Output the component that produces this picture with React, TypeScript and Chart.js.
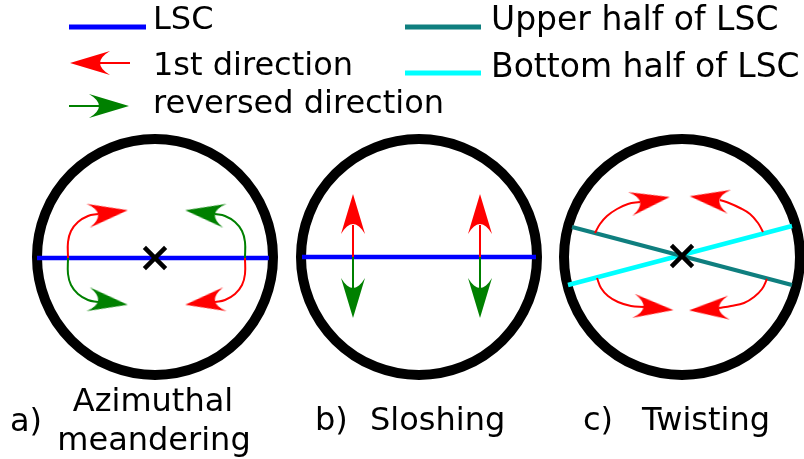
import React, { useEffect, useRef } from "react";
import { Chart, registerables } from "chart.js";

Chart.register(...registerables);

const W = 804;
const H = 459;

// ---- data (diagram coordinates in a 804 x 459 value space) ----
// panel circle centres
const circleCenters = [
  { x: 155, y: 257 },
  { x: 419, y: 257 },
  { x: 682, y: 257 },
];
// centre crosses (panels a and c)
const crossCenters = [
  { x: 155, y: 258 },
  { x: 682, y: 256 },
];
// LSC lines
const lscPanelA = [{ x: 37, y: 258 }, { x: 269, y: 258 }];
const lscPanelB = [{ x: 302, y: 257 }, { x: 536, y: 257 }];
const upperHalfC = [{ x: 572, y: 227 }, { x: 792, y: 285 }];
const bottomHalfC = [{ x: 568, y: 285 }, { x: 792, y: 226 }];
// legend swatches
const legendLSC = [{ x: 69, y: 27 }, { x: 146, y: 27 }];
const legendUpper = [{ x: 405, y: 27 }, { x: 481, y: 27 }];
const legendBottom = [{ x: 405, y: 73 }, { x: 481, y: 73 }];
const legendRedShaft = [{ x: 130, y: 63 }, { x: 100, y: 63 }];
const legendGreenShaft = [{ x: 69, y: 106 }, { x: 99, y: 106 }];

// arrow shafts – 1st direction (red)
const redShafts = [
  [{ x: 68, y: 258 }, { x: 68, y: 242 }, { x: 71, y: 231 }, { x: 78, y: 222 }, { x: 88, y: 216 }, { x: 98, y: 214 }],
  [{ x: 245, y: 258 }, { x: 245, y: 274 }, { x: 242, y: 285 }, { x: 235, y: 294 }, { x: 225, y: 300 }, { x: 215, y: 302 }],
  [{ x: 353, y: 257 }, { x: 353, y: 225 }],
  [{ x: 480, y: 257 }, { x: 480, y: 225 }],
  [{ x: 595, y: 233 }, { x: 600, y: 224 }, { x: 607, y: 216 }, { x: 617, y: 209 }, { x: 628, y: 204 }, { x: 640, y: 202 }],
  [{ x: 763, y: 232 }, { x: 758, y: 223 }, { x: 750, y: 214 }, { x: 740, y: 208 }, { x: 729, y: 203 }, { x: 720, y: 200 }],
  [{ x: 597, y: 278 }, { x: 601, y: 288 }, { x: 608, y: 296 }, { x: 618, y: 302 }, { x: 631, y: 306 }, { x: 644, y: 307 }],
  [{ x: 767, y: 279 }, { x: 762, y: 289 }, { x: 754, y: 297 }, { x: 744, y: 303 }, { x: 731, y: 306 }, { x: 719, y: 308 }],
];
// arrow shafts – reversed direction (green)
const greenShafts = [
  [{ x: 68, y: 258 }, { x: 68, y: 274 }, { x: 71, y: 285 }, { x: 78, y: 294 }, { x: 88, y: 300 }, { x: 98, y: 302 }],
  [{ x: 245, y: 258 }, { x: 245, y: 242 }, { x: 242, y: 231 }, { x: 235, y: 222 }, { x: 225, y: 216 }, { x: 215, y: 214 }],
  [{ x: 353, y: 257 }, { x: 353, y: 288 }],
  [{ x: 480, y: 257 }, { x: 480, y: 288 }],
];
// arrow heads (centre of head) and their directions in degrees
const redHeads = [
  { x: 108, y: 213 }, { x: 205, y: 302 }, { x: 353, y: 214 }, { x: 480, y: 214 },
  { x: 650, y: 200.5 }, { x: 709.5, y: 199 }, { x: 653.5, y: 308 }, { x: 709, y: 309 },
  { x: 90, y: 63 },
];
const redHeadAngles = [-8, 172, -90, -90, -10, 188, 6, 176, 180];
const greenHeads = [
  { x: 108, y: 302 }, { x: 205, y: 213 }, { x: 353, y: 298 }, { x: 480, y: 298 },
  { x: 109, y: 106 },
];
const greenHeadAngles = [8, 188, 90, 90, 0];

// texts
const legendLabels = ["LSC", "1st direction", "reversed direction", "Upper half of LSC", "Bottom half of LSC"];
const panelLetters = ["a)", "b)", "c)"];
const panelNames = [["Azimuthal", "meandering"], ["Sloshing"], ["Twisting"]];

// ---- layout (positions of texts) ----
const legendLabelPos = [
  { x: 153, y: 29, size: 32 },
  { x: 153, y: 75, size: 32 },
  { x: 153, y: 113, size: 32 },
  { x: 491, y: 30, size: 33 },
  { x: 491, y: 77, size: 33 },
];
const letterPos = [
  { x: 10, y: 431 },
  { x: 315, y: 430 },
  { x: 583, y: 430 },
];
const namePos = [
  [{ x: 153, y: 411, align: "center" }, { x: 154, y: 450, align: "center" }],
  [{ x: 370, y: 430, align: "left" }],
  [{ x: 642, y: 430, align: "left" }],
];

const RED = "#ff0000";
const GREEN = "#008000";
const BLUE = "#0000ff";
const TEAL = "#0f7f7f";
const CYAN = "#00ffff";
const font = (px: number) => `${px}px "DejaVu Sans", Verdana, sans-serif`;

function makeHead(color: string, len = 40, wid = 24) {
  const pad = 2;
  const c = document.createElement("canvas");
  c.width = len + pad * 2;
  c.height = wid + pad * 2;
  const g = c.getContext("2d")!;
  g.fillStyle = color;
  g.beginPath();
  g.moveTo(pad + len, pad + wid / 2);
  g.lineTo(pad, pad);
  g.quadraticCurveTo(pad + len * 0.5, pad + wid / 2, pad, pad + wid);
  g.closePath();
  g.fill();
  return c;
}

const textPlugin = {
  id: "diagramText",
  afterDatasetsDraw(chart: any) {
    const ctx = chart.ctx;
    const xs = chart.scales.x;
    const ys = chart.scales.y;
    ctx.save();
    ctx.fillStyle = "#000";
    ctx.textBaseline = "alphabetic";
    legendLabels.forEach((t, i) => {
      const p = legendLabelPos[i];
      ctx.font = font(p.size);
      ctx.textAlign = "left";
      ctx.fillText(t, xs.getPixelForValue(p.x), ys.getPixelForValue(p.y));
    });
    ctx.font = font(32);
    panelLetters.forEach((t, i) => {
      ctx.textAlign = "left";
      ctx.fillText(t, xs.getPixelForValue(letterPos[i].x), ys.getPixelForValue(letterPos[i].y));
    });
    panelNames.forEach((lines, i) => {
      lines.forEach((t, j) => {
        const p = namePos[i][j];
        ctx.textAlign = p.align;
        ctx.fillText(t, xs.getPixelForValue(p.x), ys.getPixelForValue(p.y));
      });
    });
    ctx.restore();
  },
};

export default function App() {
  const ref = useRef<HTMLCanvasElement | null>(null);

  useEffect(() => {
    if (!ref.current) return;
    const redHead = makeHead(RED);
    const greenHead = makeHead(GREEN);

    const line = (data: any[], color: string, width: number, order: number) => ({
      data,
      showLine: true,
      borderColor: color,
      borderWidth: width,
      pointRadius: 0,
      tension: 0.4,
      fill: false,
      clip: false,
      order,
    });

    const datasets: any[] = [
      {
        data: circleCenters,
        pointStyle: "circle",
        pointRadius: 118,
        pointBorderWidth: 10,
        pointBorderColor: "#000",
        pointBackgroundColor: "rgba(0,0,0,0)",
        clip: false,
        order: 5,
      },
      line(lscPanelA, BLUE, 4.5, 4),
      line(lscPanelB, BLUE, 4.5, 4),
      line(upperHalfC, TEAL, 4, 4),
      line(bottomHalfC, CYAN, 4.5, 4),
      line(legendLSC, BLUE, 5, 4),
      line(legendUpper, TEAL, 5, 4),
      line(legendBottom, CYAN, 5, 4),
      line(legendRedShaft, RED, 2, 3),
      line(legendGreenShaft, GREEN, 2, 3),
      ...redShafts.map((s) => line(s, RED, 2, 3)),
      ...greenShafts.map((s) => line(s, GREEN, 2, 3)),
      {
        data: redHeads,
        pointStyle: redHead,
        pointRotation: redHeadAngles,
        pointRadius: 1,
        clip: false,
        order: 2,
      },
      {
        data: greenHeads,
        pointStyle: greenHead,
        pointRotation: greenHeadAngles,
        pointRadius: 1,
        clip: false,
        order: 2,
      },
      {
        data: crossCenters,
        pointStyle: "crossRot",
        pointRadius: 15,
        pointBorderWidth: 4.5,
        pointBorderColor: "#000",
        clip: false,
        order: 1,
      },
    ];

    const chart = new Chart(ref.current, {
      type: "scatter",
      data: { datasets },
      options: {
        animation: false,
        responsive: false,
        devicePixelRatio: 1,
        events: [],
        layout: { padding: 0, autoPadding: false },
        plugins: { legend: { display: false }, tooltip: { enabled: false } },
        scales: {
          x: { type: "linear", min: 0, max: W, display: false },
          y: { type: "linear", min: 0, max: H, reverse: true, display: false },
        },
      },
      plugins: [textPlugin],
    });
    return () => chart.destroy();
  }, []);

  return (
    <div style={{ position: "absolute", left: 0, top: 0, width: W, height: H, background: "#fff" }}>
      <canvas ref={ref} width={W} height={H} style={{ display: "block" }} />
    </div>
  );
}
